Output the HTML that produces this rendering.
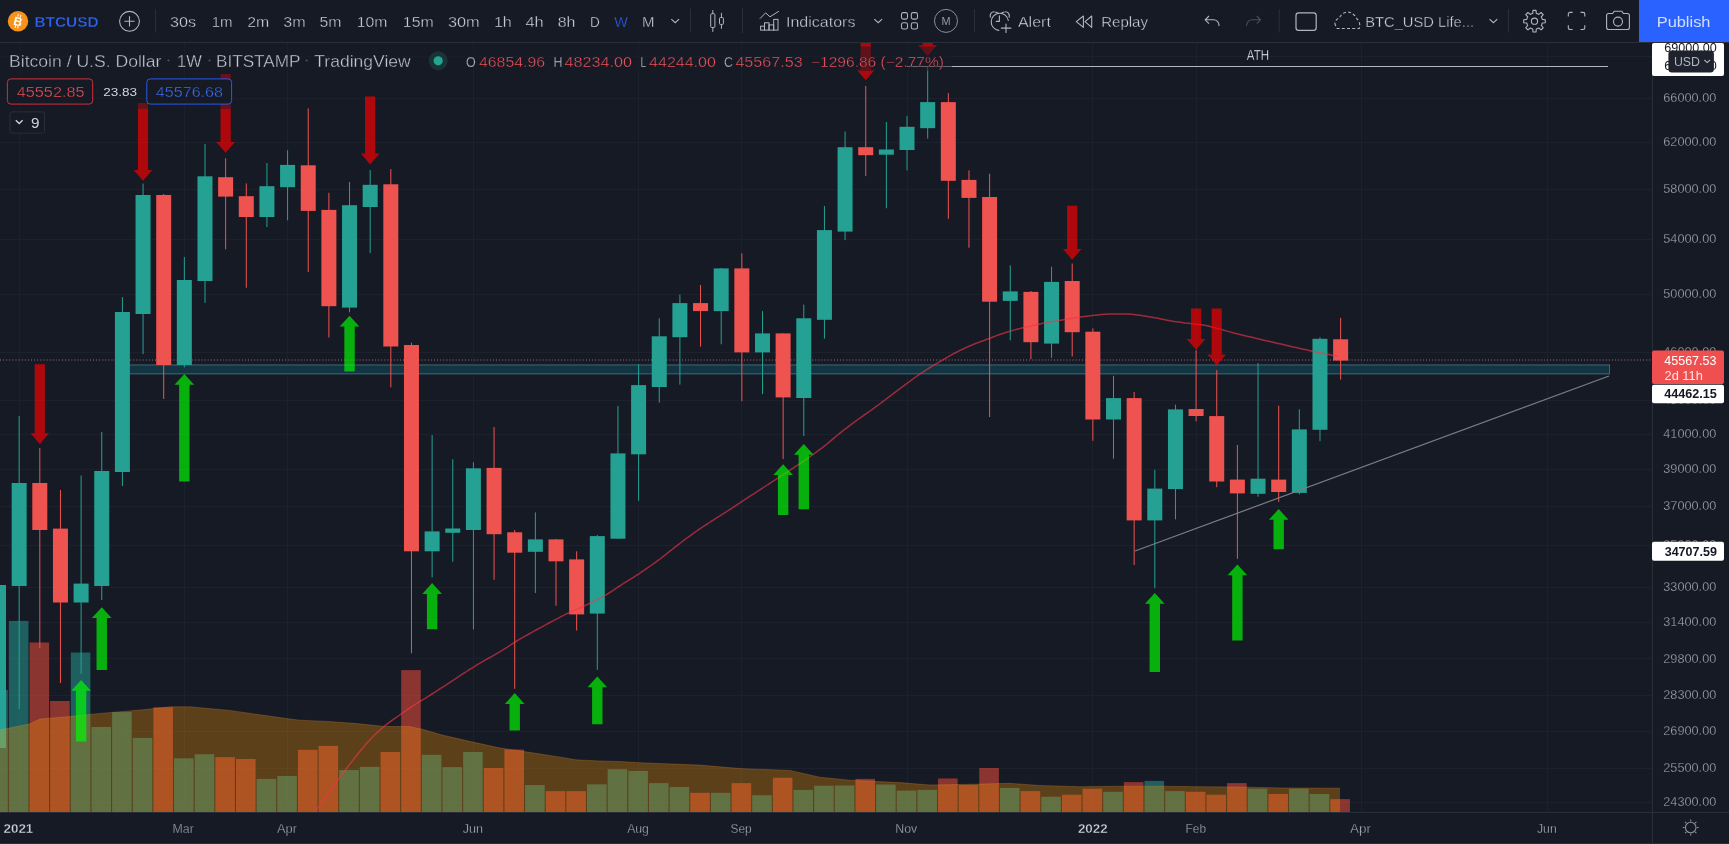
<!DOCTYPE html>
<html><head><meta charset="utf-8"><title>BTCUSD chart</title>
<style>
html,body{margin:0;padding:0;background:#161a25;width:1729px;height:844px;overflow:hidden}
svg{position:absolute;left:0;top:0;display:block;will-change:transform}
text{font-family:"Liberation Sans", Arial, sans-serif;white-space:pre}
.th{stroke:#161a25;stroke-width:0.35px}
</style></head><body>
<svg width="1729" height="844" viewBox="0 0 1729 844">
<rect width="1729" height="844" fill="#161a25"/>
<defs><clipPath id="pane"><rect x="0" y="43" width="1652" height="769"/></clipPath></defs>
<g clip-path="url(#pane)">
<line x1="0" y1="56.5" x2="1652" y2="56.5" stroke="#1d212d" stroke-width="1"/>
<line x1="0" y1="98.5" x2="1652" y2="98.5" stroke="#1d212d" stroke-width="1"/>
<line x1="0" y1="142.5" x2="1652" y2="142.5" stroke="#1d212d" stroke-width="1"/>
<line x1="0" y1="189.5" x2="1652" y2="189.5" stroke="#1d212d" stroke-width="1"/>
<line x1="0" y1="239.5" x2="1652" y2="239.5" stroke="#1d212d" stroke-width="1"/>
<line x1="0" y1="294.5" x2="1652" y2="294.5" stroke="#1d212d" stroke-width="1"/>
<line x1="0" y1="352.5" x2="1652" y2="352.5" stroke="#1d212d" stroke-width="1"/>
<line x1="0" y1="400.5" x2="1652" y2="400.5" stroke="#1d212d" stroke-width="1"/>
<line x1="0" y1="434.5" x2="1652" y2="434.5" stroke="#1d212d" stroke-width="1"/>
<line x1="0" y1="469.5" x2="1652" y2="469.5" stroke="#1d212d" stroke-width="1"/>
<line x1="0" y1="506.5" x2="1652" y2="506.5" stroke="#1d212d" stroke-width="1"/>
<line x1="0" y1="545.5" x2="1652" y2="545.5" stroke="#1d212d" stroke-width="1"/>
<line x1="0" y1="587.5" x2="1652" y2="587.5" stroke="#1d212d" stroke-width="1"/>
<line x1="0" y1="622.5" x2="1652" y2="622.5" stroke="#1d212d" stroke-width="1"/>
<line x1="0" y1="658.5" x2="1652" y2="658.5" stroke="#1d212d" stroke-width="1"/>
<line x1="0" y1="695.5" x2="1652" y2="695.5" stroke="#1d212d" stroke-width="1"/>
<line x1="0" y1="731.5" x2="1652" y2="731.5" stroke="#1d212d" stroke-width="1"/>
<line x1="0" y1="768.5" x2="1652" y2="768.5" stroke="#1d212d" stroke-width="1"/>
<line x1="0" y1="802.5" x2="1652" y2="802.5" stroke="#1d212d" stroke-width="1"/>
<line x1="19.5" y1="43" x2="19.5" y2="812" stroke="#1d212d" stroke-width="1"/>
<line x1="184.5" y1="43" x2="184.5" y2="812" stroke="#1d212d" stroke-width="1"/>
<line x1="287.5" y1="43" x2="287.5" y2="812" stroke="#1d212d" stroke-width="1"/>
<line x1="473.5" y1="43" x2="473.5" y2="812" stroke="#1d212d" stroke-width="1"/>
<line x1="638.5" y1="43" x2="638.5" y2="812" stroke="#1d212d" stroke-width="1"/>
<line x1="741.5" y1="43" x2="741.5" y2="812" stroke="#1d212d" stroke-width="1"/>
<line x1="907.5" y1="43" x2="907.5" y2="812" stroke="#1d212d" stroke-width="1"/>
<line x1="1092.5" y1="43" x2="1092.5" y2="812" stroke="#1d212d" stroke-width="1"/>
<line x1="1196.5" y1="43" x2="1196.5" y2="812" stroke="#1d212d" stroke-width="1"/>
<line x1="1361.5" y1="43" x2="1361.5" y2="812" stroke="#1d212d" stroke-width="1"/>
<line x1="1547.5" y1="43" x2="1547.5" y2="812" stroke="#1d212d" stroke-width="1"/>
<rect x="122" y="364.5" width="1488" height="9.8" fill="#133442"/>
<line x1="122" y1="365" x2="1610" y2="365" stroke="#40646e" stroke-width="1"/>
<line x1="122" y1="373.8" x2="1610" y2="373.8" stroke="#40646e" stroke-width="1"/>
<line x1="1609.5" y1="364.5" x2="1609.5" y2="374.3" stroke="#40646e" stroke-width="1"/>
<line x1="0" y1="360" x2="1651" y2="360" stroke="#a5707c" stroke-width="1" stroke-dasharray="1 2.1"/>
<rect x="-1.99" y="585.0" width="1" height="163.0" fill="#24a192"/>
<rect x="-8.99" y="585.0" width="15" height="163.0" fill="#24a192"/>
<rect x="18.66" y="416.0" width="1" height="293.0" fill="#24a192"/>
<rect x="11.66" y="483.0" width="15" height="103.0" fill="#24a192"/>
<rect x="39.31" y="448.0" width="1" height="200.0" fill="#ef5350"/>
<rect x="32.31" y="483.0" width="15" height="47.0" fill="#ef5350"/>
<rect x="59.95" y="490.0" width="1" height="193.0" fill="#ef5350"/>
<rect x="52.95" y="528.6" width="15" height="73.9" fill="#ef5350"/>
<rect x="80.60" y="475.5" width="1" height="198.2" fill="#24a192"/>
<rect x="73.60" y="583.6" width="15" height="18.9" fill="#24a192"/>
<rect x="101.25" y="432.0" width="1" height="168.0" fill="#24a192"/>
<rect x="94.25" y="471.0" width="15" height="115.0" fill="#24a192"/>
<rect x="121.90" y="297.0" width="1" height="189.0" fill="#24a192"/>
<rect x="114.90" y="312.0" width="15" height="160.0" fill="#24a192"/>
<rect x="142.55" y="183.5" width="1" height="170.5" fill="#24a192"/>
<rect x="135.55" y="195.0" width="15" height="119.0" fill="#24a192"/>
<rect x="163.19" y="194.0" width="1" height="205.0" fill="#ef5350"/>
<rect x="156.19" y="195.0" width="15" height="170.0" fill="#ef5350"/>
<rect x="183.84" y="257.0" width="1" height="110.4" fill="#24a192"/>
<rect x="176.84" y="280.0" width="15" height="85.0" fill="#24a192"/>
<rect x="204.49" y="144.0" width="1" height="158.9" fill="#24a192"/>
<rect x="197.49" y="176.3" width="15" height="104.7" fill="#24a192"/>
<rect x="225.14" y="158.2" width="1" height="91.1" fill="#ef5350"/>
<rect x="218.14" y="177.2" width="15" height="19.4" fill="#ef5350"/>
<rect x="245.79" y="183.4" width="1" height="104.3" fill="#ef5350"/>
<rect x="238.79" y="196.2" width="15" height="20.8" fill="#ef5350"/>
<rect x="266.43" y="163.0" width="1" height="64.0" fill="#24a192"/>
<rect x="259.43" y="186.2" width="15" height="30.8" fill="#24a192"/>
<rect x="287.08" y="150.2" width="1" height="70.1" fill="#24a192"/>
<rect x="280.08" y="164.9" width="15" height="22.3" fill="#24a192"/>
<rect x="307.73" y="108.4" width="1" height="163.6" fill="#ef5350"/>
<rect x="300.73" y="165.3" width="15" height="45.6" fill="#ef5350"/>
<rect x="328.38" y="192.8" width="1" height="144.7" fill="#ef5350"/>
<rect x="321.38" y="209.9" width="15" height="96.3" fill="#ef5350"/>
<rect x="349.03" y="182.0" width="1" height="130.3" fill="#24a192"/>
<rect x="342.03" y="205.2" width="15" height="102.4" fill="#24a192"/>
<rect x="369.67" y="170.0" width="1" height="83.0" fill="#24a192"/>
<rect x="362.67" y="184.8" width="15" height="22.2" fill="#24a192"/>
<rect x="390.32" y="169.1" width="1" height="218.2" fill="#ef5350"/>
<rect x="383.32" y="184.3" width="15" height="162.2" fill="#ef5350"/>
<rect x="410.97" y="342.7" width="1" height="310.5" fill="#ef5350"/>
<rect x="403.97" y="345.0" width="15" height="206.3" fill="#ef5350"/>
<rect x="431.62" y="435.1" width="1" height="142.3" fill="#24a192"/>
<rect x="424.62" y="531.4" width="15" height="19.9" fill="#24a192"/>
<rect x="452.27" y="459.3" width="1" height="102.4" fill="#24a192"/>
<rect x="445.27" y="528.5" width="15" height="4.3" fill="#24a192"/>
<rect x="472.91" y="462.2" width="1" height="167.3" fill="#24a192"/>
<rect x="465.91" y="468.3" width="15" height="61.7" fill="#24a192"/>
<rect x="493.56" y="427.0" width="1" height="152.8" fill="#ef5350"/>
<rect x="486.56" y="467.9" width="15" height="66.3" fill="#ef5350"/>
<rect x="514.21" y="530.0" width="1" height="158.8" fill="#ef5350"/>
<rect x="507.21" y="532.3" width="15" height="20.4" fill="#ef5350"/>
<rect x="534.86" y="512.4" width="1" height="80.6" fill="#24a192"/>
<rect x="527.86" y="539.4" width="15" height="12.4" fill="#24a192"/>
<rect x="555.51" y="539.0" width="1" height="66.8" fill="#ef5350"/>
<rect x="548.51" y="539.4" width="15" height="21.9" fill="#ef5350"/>
<rect x="576.15" y="551.3" width="1" height="79.2" fill="#ef5350"/>
<rect x="569.15" y="559.4" width="15" height="55.0" fill="#ef5350"/>
<rect x="596.80" y="535.0" width="1" height="134.8" fill="#24a192"/>
<rect x="589.80" y="536.1" width="15" height="77.5" fill="#24a192"/>
<rect x="617.45" y="406.0" width="1" height="132.7" fill="#24a192"/>
<rect x="610.45" y="453.4" width="15" height="85.3" fill="#24a192"/>
<rect x="638.10" y="364.2" width="1" height="136.6" fill="#24a192"/>
<rect x="631.10" y="385.1" width="15" height="69.2" fill="#24a192"/>
<rect x="658.75" y="318.2" width="1" height="84.4" fill="#24a192"/>
<rect x="651.75" y="336.3" width="15" height="50.7" fill="#24a192"/>
<rect x="679.39" y="294.5" width="1" height="90.1" fill="#24a192"/>
<rect x="672.39" y="303.1" width="15" height="34.1" fill="#24a192"/>
<rect x="700.04" y="285.0" width="1" height="61.7" fill="#ef5350"/>
<rect x="693.04" y="303.1" width="15" height="8.0" fill="#ef5350"/>
<rect x="720.69" y="268.0" width="1" height="76.3" fill="#24a192"/>
<rect x="713.69" y="268.4" width="15" height="42.7" fill="#24a192"/>
<rect x="741.34" y="253.3" width="1" height="147.9" fill="#ef5350"/>
<rect x="734.34" y="268.4" width="15" height="84.0" fill="#ef5350"/>
<rect x="761.99" y="311.1" width="1" height="83.0" fill="#24a192"/>
<rect x="754.99" y="333.4" width="15" height="19.0" fill="#24a192"/>
<rect x="782.63" y="333.4" width="1" height="125.7" fill="#ef5350"/>
<rect x="775.63" y="333.4" width="15" height="64.0" fill="#ef5350"/>
<rect x="803.28" y="304.6" width="1" height="131.4" fill="#24a192"/>
<rect x="796.28" y="318.3" width="15" height="79.7" fill="#24a192"/>
<rect x="823.93" y="206.0" width="1" height="132.7" fill="#24a192"/>
<rect x="816.93" y="230.1" width="15" height="89.7" fill="#24a192"/>
<rect x="844.58" y="131.5" width="1" height="108.6" fill="#24a192"/>
<rect x="837.58" y="147.2" width="15" height="84.4" fill="#24a192"/>
<rect x="865.23" y="86.0" width="1" height="90.1" fill="#ef5350"/>
<rect x="858.23" y="147.2" width="15" height="8.0" fill="#ef5350"/>
<rect x="885.87" y="122.0" width="1" height="86.3" fill="#24a192"/>
<rect x="878.87" y="149.5" width="15" height="5.2" fill="#24a192"/>
<rect x="906.52" y="115.9" width="1" height="54.5" fill="#24a192"/>
<rect x="899.52" y="126.8" width="15" height="23.2" fill="#24a192"/>
<rect x="927.17" y="66.1" width="1" height="72.5" fill="#24a192"/>
<rect x="920.17" y="102.1" width="15" height="26.1" fill="#24a192"/>
<rect x="947.82" y="93.1" width="1" height="125.7" fill="#ef5350"/>
<rect x="940.82" y="102.1" width="15" height="78.7" fill="#ef5350"/>
<rect x="968.47" y="170.4" width="1" height="77.3" fill="#ef5350"/>
<rect x="961.47" y="179.9" width="15" height="18.0" fill="#ef5350"/>
<rect x="989.11" y="173.7" width="1" height="243.3" fill="#ef5350"/>
<rect x="982.11" y="197.0" width="15" height="104.7" fill="#ef5350"/>
<rect x="1009.76" y="265.3" width="1" height="75.0" fill="#24a192"/>
<rect x="1002.76" y="291.4" width="15" height="9.5" fill="#24a192"/>
<rect x="1030.41" y="291.0" width="1" height="68.2" fill="#ef5350"/>
<rect x="1023.41" y="291.9" width="15" height="50.3" fill="#ef5350"/>
<rect x="1051.06" y="266.8" width="1" height="91.0" fill="#24a192"/>
<rect x="1044.06" y="281.9" width="15" height="61.7" fill="#24a192"/>
<rect x="1071.71" y="263.5" width="1" height="92.9" fill="#ef5350"/>
<rect x="1064.71" y="281.0" width="15" height="51.2" fill="#ef5350"/>
<rect x="1092.35" y="328.4" width="1" height="112.4" fill="#ef5350"/>
<rect x="1085.35" y="331.7" width="15" height="87.8" fill="#ef5350"/>
<rect x="1113.00" y="375.8" width="1" height="83.0" fill="#24a192"/>
<rect x="1106.00" y="398.1" width="15" height="21.4" fill="#24a192"/>
<rect x="1133.65" y="392.0" width="1" height="173.0" fill="#ef5350"/>
<rect x="1126.65" y="398.1" width="15" height="122.3" fill="#ef5350"/>
<rect x="1154.30" y="469.7" width="1" height="118.5" fill="#24a192"/>
<rect x="1147.30" y="488.6" width="15" height="31.8" fill="#24a192"/>
<rect x="1174.95" y="404.7" width="1" height="114.7" fill="#24a192"/>
<rect x="1167.95" y="409.4" width="15" height="79.7" fill="#24a192"/>
<rect x="1195.59" y="350.2" width="1" height="71.1" fill="#ef5350"/>
<rect x="1188.59" y="409.0" width="15" height="7.0" fill="#ef5350"/>
<rect x="1216.24" y="370.1" width="1" height="117.1" fill="#ef5350"/>
<rect x="1209.24" y="416.1" width="15" height="65.4" fill="#ef5350"/>
<rect x="1236.89" y="445.0" width="1" height="113.8" fill="#ef5350"/>
<rect x="1229.89" y="479.6" width="15" height="13.8" fill="#ef5350"/>
<rect x="1257.54" y="363.0" width="1" height="133.7" fill="#24a192"/>
<rect x="1250.54" y="478.7" width="15" height="15.1" fill="#24a192"/>
<rect x="1278.19" y="405.7" width="1" height="96.2" fill="#ef5350"/>
<rect x="1271.19" y="479.6" width="15" height="12.4" fill="#ef5350"/>
<rect x="1298.83" y="409.4" width="1" height="84.9" fill="#24a192"/>
<rect x="1291.83" y="429.4" width="15" height="63.5" fill="#24a192"/>
<rect x="1319.48" y="337.3" width="1" height="103.9" fill="#24a192"/>
<rect x="1312.48" y="338.8" width="15" height="91.0" fill="#24a192"/>
<rect x="1340.13" y="317.9" width="1" height="61.7" fill="#ef5350"/>
<rect x="1333.13" y="339.3" width="15" height="21.3" fill="#ef5350"/>
<rect x="-11.79" y="690.0" width="19.6" height="122.0" fill="rgba(38,166,154,0.5)"/>
<rect x="8.86" y="620.9" width="19.6" height="191.1" fill="rgba(38,166,154,0.5)"/>
<rect x="29.51" y="642.5" width="19.6" height="169.5" fill="rgba(248,78,62,0.52)"/>
<rect x="50.15" y="701.0" width="19.6" height="111.0" fill="rgba(248,78,62,0.52)"/>
<rect x="70.80" y="652.5" width="19.6" height="159.5" fill="rgba(38,166,154,0.5)"/>
<rect x="91.45" y="727.0" width="19.6" height="85.0" fill="rgba(38,166,154,0.5)"/>
<rect x="112.10" y="712.1" width="19.6" height="99.9" fill="rgba(38,166,154,0.5)"/>
<rect x="132.75" y="737.9" width="19.6" height="74.1" fill="rgba(38,166,154,0.5)"/>
<rect x="153.39" y="707.3" width="19.6" height="104.7" fill="rgba(248,78,62,0.52)"/>
<rect x="174.04" y="758.3" width="19.6" height="53.7" fill="rgba(38,166,154,0.5)"/>
<rect x="194.69" y="754.2" width="19.6" height="57.8" fill="rgba(38,166,154,0.5)"/>
<rect x="215.34" y="757.1" width="19.6" height="54.9" fill="rgba(248,78,62,0.52)"/>
<rect x="235.99" y="759.0" width="19.6" height="53.0" fill="rgba(248,78,62,0.52)"/>
<rect x="256.63" y="778.9" width="19.6" height="33.1" fill="rgba(38,166,154,0.5)"/>
<rect x="277.28" y="776.0" width="19.6" height="36.0" fill="rgba(38,166,154,0.5)"/>
<rect x="297.93" y="749.8" width="19.6" height="62.2" fill="rgba(248,78,62,0.52)"/>
<rect x="318.58" y="745.9" width="19.6" height="66.1" fill="rgba(248,78,62,0.52)"/>
<rect x="339.23" y="770.0" width="19.6" height="42.0" fill="rgba(38,166,154,0.5)"/>
<rect x="359.87" y="766.8" width="19.6" height="45.2" fill="rgba(38,166,154,0.5)"/>
<rect x="380.52" y="752.0" width="19.6" height="60.0" fill="rgba(248,78,62,0.52)"/>
<rect x="401.17" y="670.1" width="19.6" height="141.9" fill="rgba(248,78,62,0.52)"/>
<rect x="421.82" y="754.8" width="19.6" height="57.2" fill="rgba(38,166,154,0.5)"/>
<rect x="442.47" y="767.1" width="19.6" height="44.9" fill="rgba(38,166,154,0.5)"/>
<rect x="463.11" y="752.0" width="19.6" height="60.0" fill="rgba(38,166,154,0.5)"/>
<rect x="483.76" y="768.0" width="19.6" height="44.0" fill="rgba(248,78,62,0.52)"/>
<rect x="504.41" y="749.5" width="19.6" height="62.5" fill="rgba(248,78,62,0.52)"/>
<rect x="525.06" y="785.0" width="19.6" height="27.0" fill="rgba(38,166,154,0.5)"/>
<rect x="545.71" y="791.1" width="19.6" height="20.9" fill="rgba(248,78,62,0.52)"/>
<rect x="566.35" y="791.1" width="19.6" height="20.9" fill="rgba(248,78,62,0.52)"/>
<rect x="587.00" y="784.3" width="19.6" height="27.7" fill="rgba(38,166,154,0.5)"/>
<rect x="607.65" y="769.2" width="19.6" height="42.8" fill="rgba(38,166,154,0.5)"/>
<rect x="628.30" y="770.9" width="19.6" height="41.1" fill="rgba(38,166,154,0.5)"/>
<rect x="648.95" y="783.1" width="19.6" height="28.9" fill="rgba(38,166,154,0.5)"/>
<rect x="669.59" y="787.0" width="19.6" height="25.0" fill="rgba(38,166,154,0.5)"/>
<rect x="690.24" y="792.8" width="19.6" height="19.2" fill="rgba(248,78,62,0.52)"/>
<rect x="710.89" y="792.8" width="19.6" height="19.2" fill="rgba(38,166,154,0.5)"/>
<rect x="731.54" y="783.1" width="19.6" height="28.9" fill="rgba(248,78,62,0.52)"/>
<rect x="752.19" y="795.2" width="19.6" height="16.8" fill="rgba(38,166,154,0.5)"/>
<rect x="772.83" y="777.7" width="19.6" height="34.3" fill="rgba(248,78,62,0.52)"/>
<rect x="793.48" y="789.9" width="19.6" height="22.1" fill="rgba(38,166,154,0.5)"/>
<rect x="814.13" y="785.7" width="19.6" height="26.3" fill="rgba(38,166,154,0.5)"/>
<rect x="834.78" y="785.5" width="19.6" height="26.5" fill="rgba(38,166,154,0.5)"/>
<rect x="855.43" y="778.9" width="19.6" height="33.1" fill="rgba(248,78,62,0.52)"/>
<rect x="876.07" y="784.5" width="19.6" height="27.5" fill="rgba(38,166,154,0.5)"/>
<rect x="896.72" y="790.6" width="19.6" height="21.4" fill="rgba(38,166,154,0.5)"/>
<rect x="917.37" y="789.9" width="19.6" height="22.1" fill="rgba(38,166,154,0.5)"/>
<rect x="938.02" y="778.5" width="19.6" height="33.5" fill="rgba(248,78,62,0.52)"/>
<rect x="958.67" y="785.0" width="19.6" height="27.0" fill="rgba(248,78,62,0.52)"/>
<rect x="979.31" y="768.0" width="19.6" height="44.0" fill="rgba(248,78,62,0.52)"/>
<rect x="999.96" y="787.9" width="19.6" height="24.1" fill="rgba(38,166,154,0.5)"/>
<rect x="1020.61" y="791.1" width="19.6" height="20.9" fill="rgba(248,78,62,0.52)"/>
<rect x="1041.26" y="796.7" width="19.6" height="15.3" fill="rgba(38,166,154,0.5)"/>
<rect x="1061.91" y="794.7" width="19.6" height="17.3" fill="rgba(248,78,62,0.52)"/>
<rect x="1082.55" y="788.7" width="19.6" height="23.3" fill="rgba(248,78,62,0.52)"/>
<rect x="1103.20" y="791.8" width="19.6" height="20.2" fill="rgba(38,166,154,0.5)"/>
<rect x="1123.85" y="782.1" width="19.6" height="29.9" fill="rgba(248,78,62,0.52)"/>
<rect x="1144.50" y="780.9" width="19.6" height="31.1" fill="rgba(38,166,154,0.5)"/>
<rect x="1165.15" y="791.1" width="19.6" height="20.9" fill="rgba(38,166,154,0.5)"/>
<rect x="1185.79" y="791.8" width="19.6" height="20.2" fill="rgba(248,78,62,0.52)"/>
<rect x="1206.44" y="794.7" width="19.6" height="17.3" fill="rgba(248,78,62,0.52)"/>
<rect x="1227.09" y="783.1" width="19.6" height="28.9" fill="rgba(248,78,62,0.52)"/>
<rect x="1247.74" y="788.7" width="19.6" height="23.3" fill="rgba(38,166,154,0.5)"/>
<rect x="1268.39" y="794.0" width="19.6" height="18.0" fill="rgba(248,78,62,0.52)"/>
<rect x="1289.03" y="788.7" width="19.6" height="23.3" fill="rgba(38,166,154,0.5)"/>
<rect x="1309.68" y="794.0" width="19.6" height="18.0" fill="rgba(38,166,154,0.5)"/>
<rect x="1330.33" y="799.1" width="19.6" height="12.9" fill="rgba(248,78,62,0.52)"/>
<polygon points="0,812 0,729.9 30,723.8 40,719 70,716.5 100,713.4 140,710 170,706.8 190,706.8 230,710.4 260,714.8 290,719 300,720.2 328.4,721.4 356.9,723.6 385.3,726.5 409.5,726.5 422.3,729.3 442.2,735 470.7,741.6 499.1,747.8 527.6,752.1 556,756.4 575.9,759.8 598.7,760.9 620,761.5 640,762.7 700,765.1 740,768.5 790,770.4 820,777.2 850,780.2 900,782.6 930,785 970,784.3 1010,783.3 1040,785.5 1080,786.7 1120,786.2 1160,786.2 1200,786.7 1240,787 1280,787.9 1340,788.2 1340,812" fill="rgba(255,152,0,0.3)"/>
<polyline points="0,729.9 30,723.8 40,719 70,716.5 100,713.4 140,710 170,706.8 190,706.8 230,710.4 260,714.8 290,719 300,720.2 328.4,721.4 356.9,723.6 385.3,726.5 409.5,726.5 422.3,729.3 442.2,735 470.7,741.6 499.1,747.8 527.6,752.1 556,756.4 575.9,759.8 598.7,760.9 620,761.5 640,762.7 700,765.1 740,768.5 790,770.4 820,777.2 850,780.2 900,782.6 930,785 970,784.3 1010,783.3 1040,785.5 1080,786.7 1120,786.2 1160,786.2 1200,786.7 1240,787 1280,787.9 1340,788.2" fill="none" stroke="rgba(255,160,60,0.22)" stroke-width="1"/>
<polyline points="300.0,835.0 303.0,830.4 306.0,825.9 309.0,821.3 312.0,816.8 315.0,812.3 318.0,807.9 321.0,803.6 324.0,799.4 327.0,795.2 330.0,791.1 333.0,786.9 336.0,782.7 339.0,778.6 342.0,774.5 345.0,770.5 348.0,766.5 351.0,762.6 354.0,758.7 357.0,755.0 360.0,751.2 363.0,747.6 366.0,744.1 369.0,740.7 372.0,737.5 375.0,734.5 378.0,731.7 381.0,729.0 384.0,726.5 387.0,724.1 390.0,721.9 393.0,719.7 396.0,717.6 399.0,715.5 402.0,713.4 405.0,711.3 408.0,709.2 411.0,707.2 414.0,705.2 417.0,703.3 420.0,701.4 423.0,699.6 426.0,697.8 429.0,695.9 432.0,694.0 435.0,692.1 438.0,690.2 441.0,688.2 444.0,686.3 447.0,684.3 450.0,682.3 453.0,680.4 456.0,678.4 459.0,676.4 462.0,674.4 465.0,672.5 468.0,670.5 471.0,668.6 474.0,666.8 477.0,664.9 480.0,663.1 483.0,661.4 486.0,659.7 489.0,658.0 492.0,656.4 495.0,654.7 498.0,652.9 501.0,651.1 504.0,649.2 507.0,647.3 510.0,645.3 513.0,643.4 516.0,641.5 519.0,639.7 522.0,637.9 525.0,636.2 528.0,634.5 531.0,632.8 534.0,631.1 537.0,629.5 540.0,627.9 543.0,626.3 546.0,624.7 549.0,623.0 552.0,621.4 555.0,619.9 558.0,618.3 561.0,616.7 564.0,615.1 567.0,613.6 570.0,612.3 573.0,610.9 576.0,609.7 579.0,608.4 582.0,607.0 585.0,605.6 588.0,604.1 591.0,602.6 594.0,601.1 597.0,599.6 600.0,598.2 603.0,596.6 606.0,594.9 609.0,593.0 612.0,591.1 615.0,589.1 618.0,587.0 621.0,585.1 624.0,583.2 627.0,581.3 630.0,579.4 633.0,577.6 636.0,575.7 639.0,573.8 642.0,571.7 645.0,569.7 648.0,567.6 651.0,565.5 654.0,563.4 657.0,561.2 660.0,559.0 663.0,556.6 666.0,554.3 669.0,551.9 672.0,549.5 675.0,547.1 678.0,544.8 681.0,542.5 684.0,540.2 687.0,538.0 690.0,535.9 693.0,533.7 696.0,531.5 699.0,529.4 702.0,527.4 705.0,525.4 708.0,523.5 711.0,521.5 714.0,519.6 717.0,517.7 720.0,515.8 723.0,513.9 726.0,512.0 729.0,510.0 732.0,508.1 735.0,506.1 738.0,504.1 741.0,502.1 744.0,500.1 747.0,498.2 750.0,496.2 753.0,494.3 756.0,492.4 759.0,490.4 762.0,488.5 765.0,486.5 768.0,484.5 771.0,482.6 774.0,480.6 777.0,478.7 780.0,476.7 783.0,474.8 786.0,472.8 789.0,470.9 792.0,468.9 795.0,466.9 798.0,464.9 801.0,462.9 804.0,460.9 807.0,458.8 810.0,456.7 813.0,454.5 816.0,452.3 819.0,450.1 822.0,447.9 825.0,445.6 828.0,443.2 831.0,440.7 834.0,438.1 837.0,435.5 840.0,433.1 843.0,430.7 846.0,428.4 849.0,426.1 852.0,423.9 855.0,421.7 858.0,419.5 861.0,417.4 864.0,415.2 867.0,413.1 870.0,411.0 873.0,408.9 876.0,406.7 879.0,404.5 882.0,402.2 885.0,400.0 888.0,397.7 891.0,395.4 894.0,393.2 897.0,390.9 900.0,388.7 903.0,386.4 906.0,384.2 909.0,382.0 912.0,379.7 915.0,377.5 918.0,375.4 921.0,373.3 924.0,371.3 927.0,369.4 930.0,367.5 933.0,365.7 936.0,363.9 939.0,362.1 942.0,360.3 945.0,358.6 948.0,356.9 951.0,355.2 954.0,353.5 957.0,352.0 960.0,350.4 963.0,349.0 966.0,347.6 969.0,346.2 972.0,345.0 975.0,343.8 978.0,342.6 981.0,341.5 984.0,340.5 987.0,339.3 990.0,338.2 993.0,337.0 996.0,335.9 999.0,334.8 1002.0,333.7 1005.0,332.8 1008.0,331.8 1011.0,331.0 1014.0,330.1 1017.0,329.2 1020.0,328.5 1023.0,327.7 1026.0,327.0 1029.0,326.4 1032.0,325.7 1035.0,325.1 1038.0,324.4 1041.0,323.8 1044.0,323.1 1047.0,322.5 1050.0,322.0 1053.0,321.4 1056.0,320.9 1059.0,320.4 1062.0,319.9 1065.0,319.4 1068.0,318.9 1071.0,318.4 1074.0,317.9 1077.0,317.5 1080.0,317.1 1083.0,316.7 1086.0,316.3 1089.0,315.9 1092.0,315.6 1095.0,315.2 1098.0,314.9 1101.0,314.6 1104.0,314.3 1107.0,314.2 1110.0,314.0 1113.0,313.9 1116.0,313.9 1119.0,313.9 1122.0,313.9 1125.0,314.0 1128.0,314.1 1131.0,314.3 1134.0,314.6 1137.0,314.9 1140.0,315.3 1143.0,315.8 1146.0,316.2 1149.0,316.7 1152.0,317.2 1155.0,317.8 1158.0,318.3 1161.0,319.0 1164.0,319.6 1167.0,320.2 1170.0,320.8 1173.0,321.3 1176.0,321.7 1179.0,322.1 1182.0,322.5 1185.0,322.9 1188.0,323.2 1191.0,323.6 1194.0,323.9 1197.0,324.2 1200.0,324.6 1203.0,325.0 1206.0,325.5 1209.0,326.2 1212.0,326.9 1215.0,327.7 1218.0,328.6 1221.0,329.4 1224.0,330.3 1227.0,331.1 1230.0,331.9 1233.0,332.7 1236.0,333.5 1239.0,334.2 1242.0,335.0 1245.0,335.7 1248.0,336.4 1251.0,337.1 1254.0,337.8 1257.0,338.6 1260.0,339.3 1263.0,340.0 1266.0,340.7 1269.0,341.3 1272.0,342.0 1275.0,342.7 1278.0,343.4 1281.0,344.1 1284.0,344.8 1287.0,345.5 1290.0,346.2 1293.0,346.9 1296.0,347.5 1299.0,348.2 1302.0,348.9 1305.0,349.6 1308.0,350.3 1311.0,350.9 1314.0,351.6 1317.0,352.2 1320.0,352.8 1323.0,353.4 1326.0,354.0 1329.0,354.6 1332.0,355.2 1335.0,355.8 1338.0,356.4" fill="none" stroke="rgba(242,54,69,0.62)" stroke-width="1.5" stroke-linejoin="round"/>
<line x1="1135" y1="551" x2="1609" y2="376" stroke="#7b7e87" stroke-width="1.2"/>
<polygon points="34.71,364.3 44.91,364.3 44.91,433.3 49.11,433.3 39.81,444.1 30.51,433.3 34.71,433.3" fill="rgba(255,0,0,0.66)"/>
<polygon points="137.95,103 148.15,103 148.15,169.9 152.35,169.9 143.05,180.7 133.75,169.9 137.95,169.9" fill="rgba(255,0,0,0.66)"/>
<polygon points="220.54,74 230.74,74 230.74,142.0 234.94,142.0 225.64,152.8 216.34,142.0 220.54,142.0" fill="rgba(255,0,0,0.66)"/>
<polygon points="365.07,96.6 375.27,96.6 375.27,153.6 379.47,153.6 370.17,164.4 360.87,153.6 365.07,153.6" fill="rgba(255,0,0,0.66)"/>
<polygon points="860.63,30 870.83,30 870.83,69.5 875.03,69.5 865.73,80.3 856.43,69.5 860.63,69.5" fill="rgba(255,0,0,0.66)"/>
<polygon points="922.57,30 932.77,30 932.77,45.2 936.97,45.2 927.67,56 918.37,45.2 922.57,45.2" fill="rgba(255,0,0,0.66)"/>
<polygon points="1067.11,205.8 1077.31,205.8 1077.31,249.0 1081.51,249.0 1072.21,259.8 1062.91,249.0 1067.11,249.0" fill="rgba(255,0,0,0.66)"/>
<polygon points="1190.99,308.4 1201.19,308.4 1201.19,338.9 1205.39,338.9 1196.09,349.7 1186.79,338.9 1190.99,338.9" fill="rgba(255,0,0,0.66)"/>
<polygon points="1211.64,308.4 1221.84,308.4 1221.84,354.5 1226.04,354.5 1216.74,365.3 1207.44,354.5 1211.64,354.5" fill="rgba(255,0,0,0.66)"/>
<polygon points="81.10,680 90.90,690.8 86.30,690.8 86.30,741.5 75.90,741.5 75.90,690.8 71.30,690.8" fill="rgba(0,255,0,0.66)"/>
<polygon points="101.75,607.3 111.55,618.1 106.95,618.1 106.95,669.9 96.55,669.9 96.55,618.1 91.95,618.1" fill="rgba(0,255,0,0.66)"/>
<polygon points="184.34,374 194.14,384.8 189.54,384.8 189.54,481.6 179.14,481.6 179.14,384.8 174.54,384.8" fill="rgba(0,255,0,0.66)"/>
<polygon points="349.53,315.7 359.33,326.5 354.73,326.5 354.73,371.6 344.33,371.6 344.33,326.5 339.73,326.5" fill="rgba(0,255,0,0.66)"/>
<polygon points="432.12,583.1 441.92,593.9 437.32,593.9 437.32,629.3 426.92,629.3 426.92,593.9 422.32,593.9" fill="rgba(0,255,0,0.66)"/>
<polygon points="514.71,693.1 524.51,703.9 519.91,703.9 519.91,730.4 509.51,730.4 509.51,703.9 504.91,703.9" fill="rgba(0,255,0,0.66)"/>
<polygon points="597.30,676.5 607.10,687.3 602.50,687.3 602.50,724.3 592.10,724.3 592.10,687.3 587.50,687.3" fill="rgba(0,255,0,0.66)"/>
<polygon points="783.13,464.3 792.93,475.1 788.33,475.1 788.33,515 777.93,515 777.93,475.1 773.33,475.1" fill="rgba(0,255,0,0.66)"/>
<polygon points="803.78,443.9 813.58,454.7 808.98,454.7 808.98,509.3 798.58,509.3 798.58,454.7 793.98,454.7" fill="rgba(0,255,0,0.66)"/>
<polygon points="1154.80,592.9 1164.60,603.7 1160.00,603.7 1160.00,672.1 1149.60,672.1 1149.60,603.7 1145.00,603.7" fill="rgba(0,255,0,0.66)"/>
<polygon points="1237.39,564.5 1247.19,575.3 1242.59,575.3 1242.59,640.4 1232.19,640.4 1232.19,575.3 1227.59,575.3" fill="rgba(0,255,0,0.66)"/>
<polygon points="1278.69,509 1288.49,519.8 1283.89,519.8 1283.89,549.3 1273.49,549.3 1273.49,519.8 1268.89,519.8" fill="rgba(0,255,0,0.66)"/>
<line x1="907" y1="66.5" x2="1608" y2="66.5" stroke="#b2b5be" stroke-width="1"/>
<rect x="0" y="46.5" width="952" height="24.5" fill="#161a25" fill-opacity="0.5"/>
<rect x="0" y="71" width="240" height="38" fill="#161a25" fill-opacity="0.45"/>
<rect x="0" y="109" width="50" height="25" fill="#161a25"/>
</g>
<!-- legend boxes -->
<rect x="7.4" y="78.9" width="85.3" height="25.2" rx="3.5" fill="#161a25" stroke="#d0303a" stroke-width="1"/>
<rect x="146.8" y="78.9" width="84.8" height="25.2" rx="3.5" fill="#161a25" stroke="#2a5ae8" stroke-width="1"/>
<rect x="10" y="111.9" width="34.5" height="21.2" rx="2" fill="#161a25" stroke="#2a2e39" stroke-width="1"/>
<path d="M15.8 120.3l3.4 3.2 3.4-3.2" fill="none" stroke="#d1d4dc" stroke-width="1.3"/>
<circle cx="438.2" cy="60.8" r="9.5" fill="#1b3236"/>
<circle cx="438.2" cy="60.8" r="4.6" fill="#22a68f"/>
<!-- price axis -->
<rect x="1652" y="43" width="77" height="801" fill="#161a25"/>
<line x1="1652.5" y1="43" x2="1652.5" y2="844" stroke="#2a2e39" stroke-width="1"/>
<!-- time axis -->
<rect x="0" y="812" width="1652" height="32" fill="#161a25"/>
<line x1="0" y1="812.5" x2="1729" y2="812.5" stroke="#2a2e39" stroke-width="1"/>
<line x1="0" y1="843.5" x2="1729" y2="843.5" stroke="#2a2e39" stroke-width="1"/>
<text class="th" x="9.0" y="67.2" font-size="17" fill="#c3c6ce" font-weight="400" textLength="152.4" lengthAdjust="spacingAndGlyphs">Bitcoin / U.S. Dollar</text>
<text class="th" x="177.0" y="67.2" font-size="17" fill="#c3c6ce" font-weight="400" textLength="24.8" lengthAdjust="spacingAndGlyphs">1W</text>
<text class="th" x="216.0" y="67.2" font-size="17" fill="#c3c6ce" font-weight="400" textLength="84.5" lengthAdjust="spacingAndGlyphs">BITSTAMP</text>
<text class="th" x="314.3" y="67.2" font-size="17" fill="#c3c6ce" font-weight="400" textLength="96.4" lengthAdjust="spacingAndGlyphs">TradingView</text>
<circle cx="168.5" cy="60.5" r="1.1" fill="#4e525d"/>
<circle cx="209.5" cy="60.5" r="1.1" fill="#4e525d"/>
<circle cx="306.7" cy="60.5" r="1.1" fill="#4e525d"/>
<text class="th" x="466.1" y="66.6" font-size="14" fill="#c3c6ce" font-weight="400" textLength="9.7" lengthAdjust="spacingAndGlyphs">O</text>
<text class="th" x="479.0" y="66.6" font-size="14" fill="#f0525a" font-weight="400" textLength="66.0" lengthAdjust="spacingAndGlyphs">46854.96</text>
<text class="th" x="553.5" y="66.6" font-size="14" fill="#c3c6ce" font-weight="400" textLength="9.0" lengthAdjust="spacingAndGlyphs">H</text>
<text class="th" x="564.5" y="66.6" font-size="14" fill="#f0525a" font-weight="400" textLength="67.5" lengthAdjust="spacingAndGlyphs">48234.00</text>
<text class="th" x="640.5" y="66.6" font-size="14" fill="#c3c6ce" font-weight="400" textLength="5.7" lengthAdjust="spacingAndGlyphs">L</text>
<text class="th" x="649.1" y="66.6" font-size="14" fill="#f0525a" font-weight="400" textLength="66.8" lengthAdjust="spacingAndGlyphs">44244.00</text>
<text class="th" x="724.1" y="66.6" font-size="14" fill="#c3c6ce" font-weight="400" textLength="9.0" lengthAdjust="spacingAndGlyphs">C</text>
<text class="th" x="735.4" y="66.6" font-size="14" fill="#f0525a" font-weight="400" textLength="67.3" lengthAdjust="spacingAndGlyphs">45567.53</text>
<text class="th" x="811.0" y="66.6" font-size="14" fill="#f0525a" font-weight="400" textLength="133.0" lengthAdjust="spacingAndGlyphs">−1296.86 (−2.77%)</text>
<text class="th" x="16.8" y="96.5" font-size="14" fill="#f0525a" font-weight="400" textLength="67.7" lengthAdjust="spacingAndGlyphs">45552.85</text>
<text x="103.2" y="95.6" font-size="11.5" fill="#d1d4dc" font-weight="400" textLength="33.9" lengthAdjust="spacingAndGlyphs">23.83</text>
<text class="th" x="155.8" y="96.5" font-size="14" fill="#3d6ef0" font-weight="400" textLength="67.2" lengthAdjust="spacingAndGlyphs">45576.68</text>
<text x="31.0" y="127.6" font-size="14.5" fill="#d1d4dc" font-weight="400" textLength="8.5" lengthAdjust="spacingAndGlyphs">9</text>
<text class="th" x="1246.8" y="60.2" font-size="13.8" fill="#f0f3fa" font-weight="400" textLength="22.2" lengthAdjust="spacingAndGlyphs">ATH</text>
<text class="th" x="3.5" y="832.8" font-size="13.5" fill="#d1d4dc" font-weight="700" textLength="29.8" lengthAdjust="spacingAndGlyphs">2021</text>
<text class="th" x="172.6" y="832.8" font-size="13.5" fill="#b2b5be" font-weight="400" textLength="21.2" lengthAdjust="spacingAndGlyphs">Mar</text>
<text class="th" x="277.0" y="832.8" font-size="13.5" fill="#b2b5be" font-weight="400" textLength="20.0" lengthAdjust="spacingAndGlyphs">Apr</text>
<text class="th" x="462.7" y="832.8" font-size="13.5" fill="#b2b5be" font-weight="400" textLength="20.3" lengthAdjust="spacingAndGlyphs">Jun</text>
<text class="th" x="627.2" y="832.8" font-size="13.5" fill="#b2b5be" font-weight="400" textLength="21.7" lengthAdjust="spacingAndGlyphs">Aug</text>
<text class="th" x="730.5" y="832.8" font-size="13.5" fill="#b2b5be" font-weight="400" textLength="21.1" lengthAdjust="spacingAndGlyphs">Sep</text>
<text class="th" x="895.3" y="832.8" font-size="13.5" fill="#b2b5be" font-weight="400" textLength="22.0" lengthAdjust="spacingAndGlyphs">Nov</text>
<text class="th" x="1077.9" y="832.8" font-size="13.5" fill="#d1d4dc" font-weight="700" textLength="29.8" lengthAdjust="spacingAndGlyphs">2022</text>
<text class="th" x="1185.5" y="832.8" font-size="13.5" fill="#b2b5be" font-weight="400" textLength="20.5" lengthAdjust="spacingAndGlyphs">Feb</text>
<text class="th" x="1350.0" y="832.8" font-size="13.5" fill="#b2b5be" font-weight="400" textLength="21.0" lengthAdjust="spacingAndGlyphs">Apr</text>
<text class="th" x="1537.0" y="832.8" font-size="13.5" fill="#b2b5be" font-weight="400" textLength="19.7" lengthAdjust="spacingAndGlyphs">Jun</text>
<text class="th" x="1663.3" y="60.4" font-size="13" fill="#b2b5be" font-weight="400" textLength="53.0" lengthAdjust="spacingAndGlyphs">70000.00</text>
<text class="th" x="1663.3" y="101.9" font-size="13" fill="#b2b5be" font-weight="400" textLength="53.0" lengthAdjust="spacingAndGlyphs">66000.00</text>
<text class="th" x="1663.3" y="146.0" font-size="13" fill="#b2b5be" font-weight="400" textLength="53.0" lengthAdjust="spacingAndGlyphs">62000.00</text>
<text class="th" x="1663.3" y="193.0" font-size="13" fill="#b2b5be" font-weight="400" textLength="53.0" lengthAdjust="spacingAndGlyphs">58000.00</text>
<text class="th" x="1663.3" y="243.4" font-size="13" fill="#b2b5be" font-weight="400" textLength="53.0" lengthAdjust="spacingAndGlyphs">54000.00</text>
<text class="th" x="1663.3" y="297.6" font-size="13" fill="#b2b5be" font-weight="400" textLength="53.0" lengthAdjust="spacingAndGlyphs">50000.00</text>
<text class="th" x="1663.3" y="356.4" font-size="13" fill="#b2b5be" font-weight="400" textLength="53.0" lengthAdjust="spacingAndGlyphs">46000.00</text>
<text class="th" x="1663.3" y="404.0" font-size="13" fill="#b2b5be" font-weight="400" textLength="53.0" lengthAdjust="spacingAndGlyphs">43000.00</text>
<text class="th" x="1663.3" y="437.5" font-size="13" fill="#b2b5be" font-weight="400" textLength="53.0" lengthAdjust="spacingAndGlyphs">41000.00</text>
<text class="th" x="1663.3" y="472.8" font-size="13" fill="#b2b5be" font-weight="400" textLength="53.0" lengthAdjust="spacingAndGlyphs">39000.00</text>
<text class="th" x="1663.3" y="509.9" font-size="13" fill="#b2b5be" font-weight="400" textLength="53.0" lengthAdjust="spacingAndGlyphs">37000.00</text>
<text class="th" x="1663.3" y="549.1" font-size="13" fill="#b2b5be" font-weight="400" textLength="53.0" lengthAdjust="spacingAndGlyphs">35000.00</text>
<text class="th" x="1663.3" y="590.6" font-size="13" fill="#b2b5be" font-weight="400" textLength="53.0" lengthAdjust="spacingAndGlyphs">33000.00</text>
<text class="th" x="1663.3" y="625.6" font-size="13" fill="#b2b5be" font-weight="400" textLength="53.0" lengthAdjust="spacingAndGlyphs">31400.00</text>
<text class="th" x="1663.3" y="662.5" font-size="13" fill="#b2b5be" font-weight="400" textLength="53.0" lengthAdjust="spacingAndGlyphs">29800.00</text>
<text class="th" x="1663.3" y="698.9" font-size="13" fill="#b2b5be" font-weight="400" textLength="53.0" lengthAdjust="spacingAndGlyphs">28300.00</text>
<text class="th" x="1663.3" y="734.7" font-size="13" fill="#b2b5be" font-weight="400" textLength="53.0" lengthAdjust="spacingAndGlyphs">26900.00</text>
<text class="th" x="1663.3" y="772.3" font-size="13" fill="#b2b5be" font-weight="400" textLength="53.0" lengthAdjust="spacingAndGlyphs">25500.00</text>
<text class="th" x="1663.3" y="806.3" font-size="13" fill="#b2b5be" font-weight="400" textLength="53.0" lengthAdjust="spacingAndGlyphs">24300.00</text>
<!-- price axis boxes -->
<rect x="1652" y="350.4" width="72" height="33.6" rx="2" fill="#f04f4f"/>
<text x="1664.3" y="364.6" font-size="13" fill="#ffffff" textLength="52.1" lengthAdjust="spacingAndGlyphs">45567.53</text>
<text x="1664.5" y="379.8" font-size="13" fill="#ffe6e6" textLength="38.3" lengthAdjust="spacingAndGlyphs">2d 11h</text>
<rect x="1652" y="384.8" width="72" height="18.4" rx="2" fill="#ffffff"/>
<text x="1664.3" y="398.2" font-size="13" font-weight="700" fill="#131722" textLength="52.6" lengthAdjust="spacingAndGlyphs">44462.15</text>
<rect x="1652" y="541.8" width="72" height="19" rx="2" fill="#ffffff"/>
<text x="1664.7" y="555.8" font-size="13" font-weight="700" fill="#131722" textLength="52.2" lengthAdjust="spacingAndGlyphs">34707.59</text>
<rect x="1652" y="43" width="72" height="33" rx="2" fill="#ffffff"/>
<text x="1664.3" y="51.7" font-size="13" fill="#131722" textLength="52.6" lengthAdjust="spacingAndGlyphs">69000.00</text>
<text x="1664.3" y="69.9" font-size="13" fill="#131722" textLength="52.6" lengthAdjust="spacingAndGlyphs">69000.00</text>
<rect x="1668.4" y="50.4" width="45.5" height="22.2" rx="3.5" fill="#1e222d"/>
<text x="1673.9" y="65.9" font-size="12.5" fill="#b2b5be" textLength="26.1" lengthAdjust="spacingAndGlyphs">USD</text>
<path d="M1704.4 60l2.8 2.6 2.8-2.6" fill="none" stroke="#b2b5be" stroke-width="1.1"/>
<!-- gear bottom right -->
<g transform="translate(1690.7 827.5)" fill="none" stroke="#8a8d96" stroke-width="1.1">
<circle r="5.3"/>
<path d="M0,-8v2M0,6v2M-8,0h2M6,0h2M-5.7,-5.7l1.4,1.4M4.3,4.3l1.4,1.4M-5.7,5.7l1.4,-1.4M4.3,-4.3l1.4,-1.4"/>
</g>
<!-- toolbar -->
<rect x="0" y="0" width="1729" height="42" fill="#161a25"/>
<line x1="0" y1="42.5" x2="1729" y2="42.5" stroke="#2a2e39" stroke-width="1"/>
<rect x="1639" y="0" width="90" height="42" fill="#2962ff"/>
<text x="1656.7" y="26.9" font-size="15" fill="#d4defe" textLength="53.8" lengthAdjust="spacingAndGlyphs">Publish</text>

<circle cx="18" cy="21.2" r="10.2" fill="#f7931a"/>
<g transform="translate(18 21.3) rotate(14)">
<text x="0" y="4.3" font-size="12" font-weight="700" fill="#fff" text-anchor="middle" font-family='"Liberation Sans", Arial, sans-serif'>B</text>
<path d="M-1.3 -7v2.6M1.3 -7v2.6M-1.3 4.4v2.6M1.3 4.4v2.6" stroke="#fff" stroke-width="1"/>
</g>
<circle cx="129.5" cy="21.3" r="9.9" fill="none" stroke="#b2b5be" stroke-width="1.1"/>
<path d="M129.5 16.2v10.2M124.4 21.3h10.2" stroke="#b2b5be" stroke-width="1.1"/>
<line x1="155.5" y1="9.5" x2="155.5" y2="32.5" stroke="#2a2e39" stroke-width="1"/>
<path d="M671.3 19.2l3.9 3.5 3.9-3.5" fill="none" stroke="#b2b5be" stroke-width="1.1"/>
<line x1="690.5" y1="8.7" x2="690.5" y2="32" stroke="#2a2e39" stroke-width="1"/>
<g fill="none" stroke="#b2b5be" stroke-width="1">
<rect x="710.7" y="13.7" width="4.2" height="13.8" rx="1"/>
<path d="M712.8 10.1v3.6M712.8 27.5v4.4"/>
<rect x="719.5" y="17.6" width="3.9" height="6.8" rx="0.8"/>
<path d="M721.45 12.9v4.7M721.45 24.4v4.4"/>
</g>
<line x1="742.5" y1="8.2" x2="742.5" y2="33" stroke="#2a2e39" stroke-width="1"/>
<g fill="none" stroke="#b2b5be" stroke-width="1">
<path d="M759.9 18.7L765.6 12.9L770 16.8L778.9 11.2"/>
<rect x="760.6" y="26.2" width="3.9" height="3.9"/>
<rect x="764.5" y="22.8" width="4.5" height="7.3"/>
<rect x="769" y="24.9" width="4.7" height="5.2"/>
<rect x="773.7" y="19.4" width="4.3" height="10.7"/>
</g>
<path d="M874.3 19.2l3.9 3.5 3.9-3.5" fill="none" stroke="#b2b5be" stroke-width="1.1"/>
<g fill="none" stroke="#b2b5be" stroke-width="1.05">
<rect x="901.5" y="12.6" width="6" height="6.5" rx="1.8"/>
<rect x="911.3" y="12.6" width="6.2" height="6.5" rx="1.8"/>
<rect x="901.5" y="22.7" width="6" height="6.3" rx="1.8"/>
<rect x="911.3" y="22.7" width="6.2" height="6.3" rx="1.8"/>
</g>
<circle cx="946" cy="20.9" r="11.5" fill="none" stroke="#8a8d96" stroke-width="1"/>
<text x="946" y="24.8" font-size="10.9" fill="#9598a1" text-anchor="middle" font-family='"Liberation Sans", Arial, sans-serif'>M</text>
<line x1="974.5" y1="9" x2="974.5" y2="32" stroke="#2a2e39" stroke-width="1"/>
<g fill="none" stroke="#b2b5be" stroke-width="1.1" stroke-linecap="round">
<path d="M1008.3 20.5A8.6 8.6 0 1 0 998.8 30.4"/>
<path d="M990.3 17.2C989.6 13.8 991.8 11.6 994.2 11.8C995.9 11.9 997.3 12.6 998.2 13.2"/>
<path d="M1009.2 17.2C1009.9 13.8 1007.7 11.6 1005.3 11.8C1003.6 11.9 1002.2 12.6 1001.3 13.2"/>
<path d="M999.4 15.9v5.5h-3.1"/>
<path d="M1006 24v8.5M1001.3 28.1h9.6"/>
</g>
<g fill="none" stroke="#b2b5be" stroke-width="1.1" stroke-linejoin="round">
<path d="M1083.4 16L1076.3 21.6L1083.4 27.4Z"/>
<path d="M1091.7 16L1085 21.6L1091.7 27.4Z"/>
</g>
<path d="M1209 16l-3.8 3.8 3.8 3.8M1205.5 19.8h8a5.5 5.5 0 0 1 5.5 5.5v0.7" fill="none" stroke="#b2b5be" stroke-width="1.1"/>
<path d="M1256.8 16l3.8 3.8-3.8 3.8M1260.2 19.8h-8a5.5 5.5 0 0 0 -5.5 5.5v0.7" fill="none" stroke="#4a4e59" stroke-width="1.1"/>
<line x1="1279.3" y1="9" x2="1279.3" y2="32.5" stroke="#2a2e39" stroke-width="1"/>
<rect x="1296" y="12.8" width="20.2" height="17.6" rx="2.6" fill="none" stroke="#b2b5be" stroke-width="1.2"/>
<path d="M1335.5 25.5C1333.5 22 1337 18.5 1339.5 18C1341.5 13 1346 11.5 1349 12.2C1352.5 13 1355.5 15.5 1357 19C1359.5 21 1360.5 25 1359.2 28.5H1337.2C1336.3 27.6 1335.8 26.6 1335.5 25.5Z" fill="none" stroke="#b2b5be" stroke-width="1.1" stroke-dasharray="3 2.2"/>
<path d="M1489.5 19.2l3.9 3.5 3.9-3.5" fill="none" stroke="#b2b5be" stroke-width="1.1"/>
<line x1="1508.5" y1="9" x2="1508.5" y2="32.5" stroke="#2a2e39" stroke-width="1"/>
<g transform="translate(1534.5 21.2)" fill="none" stroke="#b2b5be" stroke-width="1.1" stroke-linejoin="round">
<path d="M7.39,-3.06 L7.79,-1.80 L10.79,-1.52 L10.79,1.52 L7.79,1.80 L7.39,3.06 L6.78,4.24 L8.71,6.56 L6.56,8.71 L4.24,6.78 L3.06,7.39 L1.80,7.79 L1.52,10.79 L-1.52,10.79 L-1.80,7.79 L-3.06,7.39 L-4.24,6.78 L-6.56,8.71 L-8.71,6.56 L-6.78,4.24 L-7.39,3.06 L-7.79,1.80 L-10.79,1.52 L-10.79,-1.52 L-7.79,-1.80 L-7.39,-3.06 L-6.78,-4.24 L-8.71,-6.56 L-6.56,-8.71 L-4.24,-6.78 L-3.06,-7.39 L-1.80,-7.79 L-1.52,-10.79 L1.52,-10.79 L1.80,-7.79 L3.06,-7.39 L4.24,-6.78 L6.56,-8.71 L8.71,-6.56 L6.78,-4.24 Z"/>
<circle r="3.1"/></g>
<path d="M1568.3 16.6v-2.5a1.7 1.7 0 0 1 1.7-1.7h2.6M1580.5 12.4h2.6a1.7 1.7 0 0 1 1.7 1.7v2.5M1584.8 25.3v2.5a1.7 1.7 0 0 1 -1.7 1.7h-2.6M1572.6 29.5h-2.6a1.7 1.7 0 0 1 -1.7-1.7v-2.5" fill="none" stroke="#b2b5be" stroke-width="1.1"/>
<path d="M1606.6 15.5a2 2 0 0 1 2-2h4l1.6-2.2h7.6l1.6 2.2h4a2 2 0 0 1 2 2v12a2 2 0 0 1 -2 2h-18.8a2 2 0 0 1 -2-2z" fill="none" stroke="#b2b5be" stroke-width="1.1"/>
<circle cx="1618" cy="21.6" r="4.5" fill="none" stroke="#b2b5be" stroke-width="1.1"/>

<text class="th" x="34.4" y="26.9" font-size="14.5" fill="#2f63f2" font-weight="700" textLength="64.2" lengthAdjust="spacingAndGlyphs">BTCUSD</text>
<text class="th" x="170.0" y="26.9" font-size="14.5" fill="#d1d4dc" font-weight="400" textLength="26.0" lengthAdjust="spacingAndGlyphs">30s</text>
<text class="th" x="211.7" y="26.9" font-size="14.5" fill="#d1d4dc" font-weight="400" textLength="20.8" lengthAdjust="spacingAndGlyphs">1m</text>
<text class="th" x="247.3" y="26.9" font-size="14.5" fill="#d1d4dc" font-weight="400" textLength="22.0" lengthAdjust="spacingAndGlyphs">2m</text>
<text class="th" x="283.2" y="26.9" font-size="14.5" fill="#d1d4dc" font-weight="400" textLength="22.4" lengthAdjust="spacingAndGlyphs">3m</text>
<text class="th" x="319.5" y="26.9" font-size="14.5" fill="#d1d4dc" font-weight="400" textLength="22.0" lengthAdjust="spacingAndGlyphs">5m</text>
<text class="th" x="356.8" y="26.9" font-size="14.5" fill="#d1d4dc" font-weight="400" textLength="30.7" lengthAdjust="spacingAndGlyphs">10m</text>
<text class="th" x="402.8" y="26.9" font-size="14.5" fill="#d1d4dc" font-weight="400" textLength="30.9" lengthAdjust="spacingAndGlyphs">15m</text>
<text class="th" x="447.9" y="26.9" font-size="14.5" fill="#d1d4dc" font-weight="400" textLength="31.8" lengthAdjust="spacingAndGlyphs">30m</text>
<text class="th" x="493.9" y="26.9" font-size="14.5" fill="#d1d4dc" font-weight="400" textLength="17.9" lengthAdjust="spacingAndGlyphs">1h</text>
<text class="th" x="525.5" y="26.9" font-size="14.5" fill="#d1d4dc" font-weight="400" textLength="18.2" lengthAdjust="spacingAndGlyphs">4h</text>
<text class="th" x="557.7" y="26.9" font-size="14.5" fill="#d1d4dc" font-weight="400" textLength="17.7" lengthAdjust="spacingAndGlyphs">8h</text>
<text class="th" x="590.0" y="26.9" font-size="14.5" fill="#d1d4dc" font-weight="400" textLength="9.8" lengthAdjust="spacingAndGlyphs">D</text>
<text class="th" x="642.0" y="26.9" font-size="14.5" fill="#d1d4dc" font-weight="400" textLength="12.5" lengthAdjust="spacingAndGlyphs">M</text>
<text class="th" x="786.0" y="26.9" font-size="14.5" fill="#d1d4dc" font-weight="400" textLength="69.4" lengthAdjust="spacingAndGlyphs">Indicators</text>
<text class="th" x="1017.9" y="26.9" font-size="14.5" fill="#d1d4dc" font-weight="400" textLength="33.0" lengthAdjust="spacingAndGlyphs">Alert</text>
<text class="th" x="1101.2" y="26.9" font-size="14.5" fill="#d1d4dc" font-weight="400" textLength="46.8" lengthAdjust="spacingAndGlyphs">Replay</text>
<text class="th" x="1365.2" y="26.9" font-size="14.5" fill="#d1d4dc" font-weight="400" textLength="108.9" lengthAdjust="spacingAndGlyphs">BTC_USD Life...</text>
<text class="th" x="614.2" y="26.9" font-size="14.5" fill="#2f63f2" font-weight="400" textLength="13.6" lengthAdjust="spacingAndGlyphs">W</text>
</svg>
</body></html>
